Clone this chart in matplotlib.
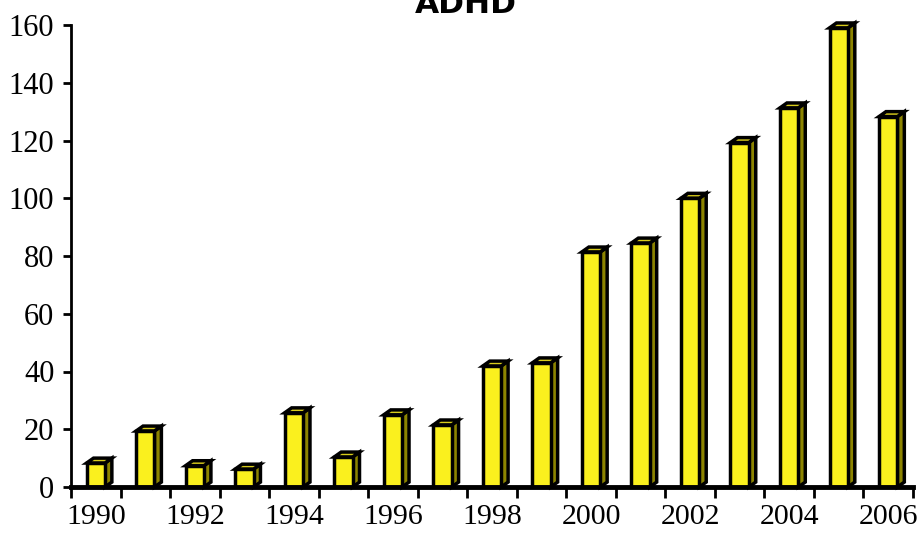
import matplotlib.pyplot as plt
from matplotlib.patches import Polygon
import numpy as np

# Data setup
years = [1990, 1991, 1992, 1993, 1994, 1995, 1996, 1997, 1998,
         1999, 2000, 2001, 2002, 2003, 2004, 2005, 2006]
counts = [8.3, 19.4, 7.4, 6.2, 25.7, 10.4, 25.0, 21.5, 41.9,
          43.0, 81.4, 84.5, 100.0, 119.3, 131.3, 159.0, 128.3]
y_ticks = [0, 20, 40, 60, 80, 100, 120, 140, 160]

front_color = '#FAF01E'
side_color = '#8C8400'
top_color = '#D8CC1C'

fig = plt.figure(figsize=(9.21, 5.33), dpi=100)
ax = fig.add_axes([71 / 921, 1 - 487 / 533, 842 / 921, 462 / 533])

x = np.arange(len(years))
w = 0.37
dx = 0.14   # depth offset in category units
dy = 1.7    # depth offset in value units
lw = 2.5

ax.bar(x, counts, width=w, color=front_color, edgecolor='black', linewidth=lw, zorder=3)

# fake 3D: side and top faces
for xi, v in zip(x, counts):
    r = xi + w / 2
    side = Polygon([(r, 0), (r + dx, dy), (r + dx, v + dy), (r, v)],
                   closed=True, facecolor=side_color, edgecolor='black',
                   linewidth=lw, zorder=2, clip_on=False)
    top = Polygon([(xi - w / 2, v), (r, v), (r + dx, v + dy), (xi - w / 2 + dx, v + dy)],
                  closed=True, facecolor=top_color, edgecolor='black',
                  linewidth=lw, zorder=2, clip_on=False)
    ax.add_patch(side)
    ax.add_patch(top)

ax.set_xlim(-0.5, len(years) - 0.5)
ax.set_ylim(0, 160)

# ticks at category boundaries, labels at centres (every other year)
ax.set_xticks(np.arange(-0.5, len(years), 1.0))
ax.set_xticklabels([])
ax.set_xticks(x, minor=True)
ax.set_xticklabels([str(y) if y % 2 == 0 else '' for y in years], minor=True,
                   fontfamily='Liberation Serif', fontsize=21.5)
ax.tick_params(axis='x', which='major', direction='out', length=8, width=2)
ax.tick_params(axis='x', which='minor', length=0, pad=12)

ax.set_yticks(y_ticks)
ax.set_yticklabels([str(t) for t in y_ticks], fontfamily='Liberation Serif', fontsize=22)
ax.tick_params(axis='y', direction='out', length=6, width=2, pad=6)

ax.spines['top'].set_visible(False)
ax.spines['right'].set_visible(False)
ax.spines['left'].set_linewidth(2)
ax.spines['bottom'].set_linewidth(3.5)
ax.spines['bottom'].set_zorder(4)

fig.text(466 / 921, 1 - 13 / 533, 'ADHD', ha='center', va='baseline',
         fontsize=22.5, fontweight='bold', fontfamily='DejaVu Sans')

fig.savefig('out.png', dpi=100)
